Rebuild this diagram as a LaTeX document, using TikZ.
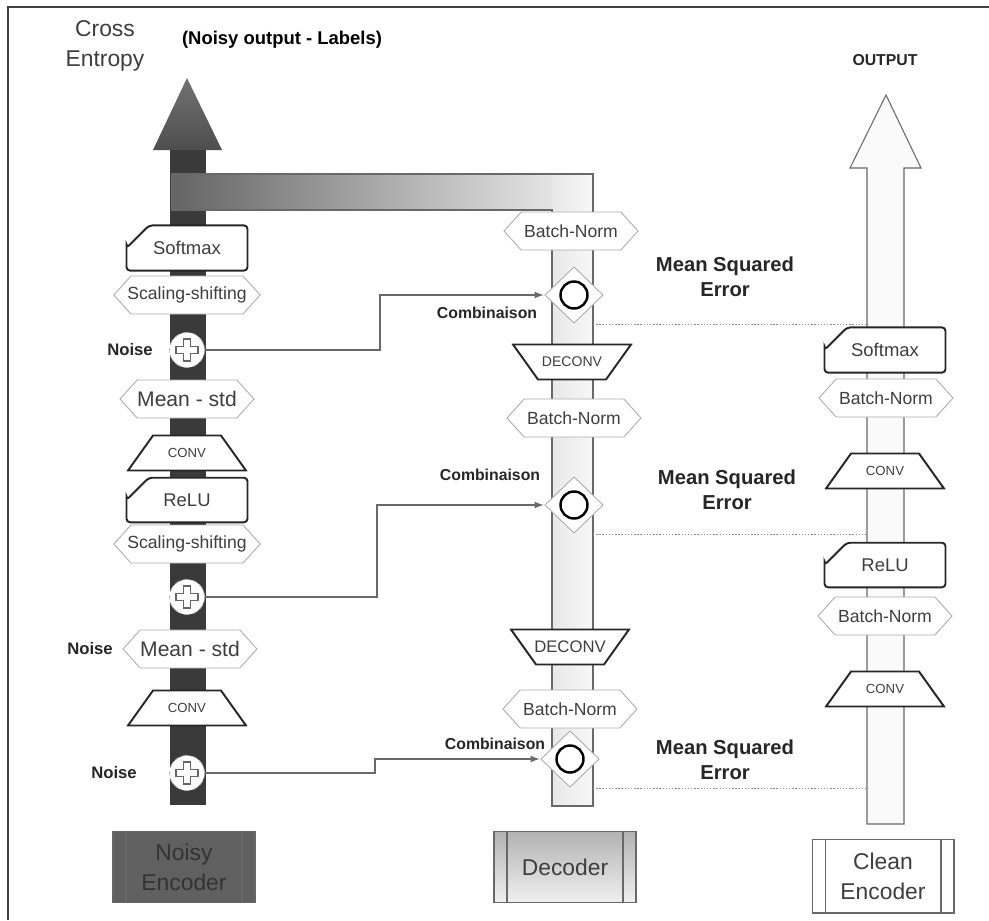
\documentclass[tikz,border=0pt]{standalone}
\usepackage{fontspec}
\setmainfont{Liberation Sans}
\usetikzlibrary{shapes.misc}
\usetikzlibrary{shapes.symbols}
\usetikzlibrary{positioning}
\definecolor{encDark}{RGB}{58,58,58}
\definecolor{headDark}{RGB}{78,78,78}
\definecolor{bandDark}{RGB}{100,100,100}
\definecolor{bandLight}{RGB}{242,242,242}
\definecolor{lineGray}{RGB}{105,105,105}
\definecolor{textGray}{RGB}{62,62,62}
\definecolor{boxDark}{RGB}{96,96,96}

\begin{document}
\begin{tikzpicture}[>=latex, x=0.02cm, y=-0.02cm]
        \tikzstyle{hexBox} = [shape=signal, signal to=east and west, signal pointer angle=96,
            draw=gray!65, fill=white, line width=0.5pt, inner xsep=-2pt, inner ysep=1pt,
            minimum width=2.68cm, minimum height=0.76cm, text=textGray,
            font=\fontsize{10}{12}\selectfont]
        \tikzstyle{cardNode} = [shape=chamfered rectangle, chamfered rectangle corners=north west,
            chamfered rectangle xsep=0.28cm, chamfered rectangle ysep=0.2cm,
            rounded corners=2pt, draw=black!85, line width=1.1pt, fill=white,
            minimum width=2.42cm, minimum height=0.72cm, text=textGray,
            font=\fontsize{10.5}{12}\selectfont]
        \tikzstyle{convNode} = [rectangle, draw=none, minimum width=2.42cm, minimum height=0.76cm,
            inner sep=1pt, text=textGray, font=\fontsize{7.5}{9}\selectfont,
            path picture={\draw[fill=white, draw=black!85, line width=1.1pt]
                ([shift={(0.03cm,0.03cm)}]path picture bounding box.south west)
                -- ([shift={(-0.03cm,0.03cm)}]path picture bounding box.south east)
                -- ([shift={(-0.53cm,-0.03cm)}]path picture bounding box.north east)
                -- ([shift={(0.53cm,-0.03cm)}]path picture bounding box.north west) -- cycle;}]
        \tikzstyle{deconvNode} = [convNode,
            path picture={\draw[fill=white, draw=black!85, line width=1.1pt]
                ([shift={(0.03cm,-0.03cm)}]path picture bounding box.north west)
                -- ([shift={(-0.03cm,-0.03cm)}]path picture bounding box.north east)
                -- ([shift={(-0.53cm,0.03cm)}]path picture bounding box.south east)
                -- ([shift={(0.53cm,0.03cm)}]path picture bounding box.south west) -- cycle;}]
        \tikzstyle{noiseNode} = [circle, fill=white, draw=gray!55, densely dashed,
            minimum size=0.7cm, inner sep=0pt,
            path picture={\draw[gray!80!black, solid, line width=0.6pt]
                (path picture bounding box.center) ++(-0.07cm,-0.22cm)
                -- ++(0.14cm,0cm) -- ++(0cm,0.15cm) -- ++(0.15cm,0cm) -- ++(0cm,0.14cm)
                -- ++(-0.15cm,0cm) -- ++(0cm,0.15cm) -- ++(-0.14cm,0cm) -- ++(0cm,-0.15cm)
                -- ++(-0.15cm,0cm) -- ++(0cm,-0.14cm) -- ++(0.15cm,0cm) -- cycle;}]
        \tikzstyle{combNode} = [rectangle, draw=none, minimum width=1.2cm, minimum height=1.16cm,
            inner sep=0pt,
            path picture={\draw[fill=white, draw=gray!65, line width=0.5pt]
                ([yshift=-0.02cm]path picture bounding box.north)
                -- ([xshift=-0.02cm]path picture bounding box.east)
                -- ([yshift=0.02cm]path picture bounding box.south)
                -- ([xshift=0.02cm]path picture bounding box.west) -- cycle;
                \draw[black, line width=1.4pt] (path picture bounding box.center) circle (0.27cm);}]
        \tikzstyle{procBox} = [rectangle, draw=lineGray, line width=0.6pt,
            minimum width=2.84cm, minimum height=1.42cm, align=center, text=textGray,
            font=\fontsize{13}{17}\selectfont,
            path picture={
                \draw[lineGray, line width=0.6pt] ([xshift=0.26cm]path picture bounding box.north west)
                    -- ([xshift=0.26cm]path picture bounding box.south west);
                \draw[lineGray, line width=0.6pt] ([xshift=-0.26cm]path picture bounding box.north east)
                    -- ([xshift=-0.26cm]path picture bounding box.south east);}]
        \tikzstyle{labelBold} = [font=\bfseries\fontsize{9.5}{11}\selectfont, text=black!85]
        \tikzstyle{mseLabel} = [align=center, font=\bfseries\fontsize{11.5}{14.5}\selectfont, text=black!85]
        \tikzstyle{connLine} = [draw=lineGray, line width=0.8pt, ->]
        \tikzstyle{mseLine} = [draw=gray!90, line width=0.8pt, densely dotted]
        \tikzstyle{colLine} = [draw=lineGray, line width=0.6pt]

        \useasboundingbox (0,0) rectangle (989,920);
        \draw[draw=black!75, line width=0.9pt] (8,920) -- (8,7) -- (989,7);

        % columns
        \fill[encDark] (170,150) rectangle (206,805);
        \shade[top color=headDark!80, bottom color=headDark] (153,150) -- (187,78) -- (222,150) -- cycle;
        \shade[left color=bandDark, right color=bandLight] (172,174) rectangle (593,210);
        \shade[left color=gray!18, right color=gray!6] (552,174) rectangle (593,806);
        \draw[colLine] (172,210) -- (172,174) -- (593,174) -- (593,806) -- (552,806) -- (552,210) -- cycle;
        \draw[colLine, fill=gray!4] (867,824) -- (867,168) -- (850,168) -- (886,95)
            -- (921,168) -- (904,168) -- (904,824) -- cycle;
        \coordinate (decRight) at (593,0);
        \coordinate (cleanLeft) at (867,0);

        % titles
        \node[align=center, text=textGray, font=\fontsize{13}{17.5}\selectfont] (nodeCross) at (105,46) {Cross\\Entropy};
        \node[font=\bfseries\fontsize{10.5}{12}\selectfont] (nodeNoisyOut) at (282,40) {(Noisy output - Labels)};
        \node[font=\bfseries\fontsize{9}{11}\selectfont, text=black!85] (nodeOutput) at (885,60) {OUTPUT};

        % noisy encoder
        \node[cardNode] (nodeSoftmaxN) at (187,248) {Softmax};
        \node[hexBox] (nodeScaleNA) at (187,295) {Scaling-shifting};
        \node[noiseNode] (nodeNoiseNA) at (187,350) {};
        \node[hexBox, font=\fontsize{12}{14}\selectfont] (nodeMeanNA) at (187,399) {Mean - std};
        \node[convNode] (nodeConvNA) at (187,453) {CONV};
        \node[cardNode] (nodeReluN) at (187,500) {ReLU};
        \node[hexBox] (nodeScaleNB) at (187,544) {Scaling-shifting};
        \node[noiseNode] (nodeNoiseNB) at (187,597) {};
        \node[hexBox, font=\fontsize{12}{14}\selectfont] (nodeMeanNB) at (190,649) {Mean - std};
        \node[convNode] (nodeConvNB) at (187,708) {CONV};
        \node[noiseNode] (nodeNoiseNC) at (187,773) {};
        \node[labelBold, left of=nodeNoiseNA, node distance=1.14cm] (nodeNoiseLabA) {Noise};
        \node[labelBold, left of=nodeMeanNB, node distance=2cm] (nodeNoiseLabB) {Noise};
        \node[labelBold, left of=nodeNoiseNC, node distance=1.46cm] (nodeNoiseLabC) {Noise};

        % decoder
        \node[hexBox] (nodeBnDA) at (571,231) {Batch-Norm};
        \node[combNode] (nodeCombA) at (574,295) {};
        \node[deconvNode, font=\fontsize{8}{9}\selectfont] (nodeDeconvA) at (572,362) {DECONV};
        \node[hexBox] (nodeBnDB) at (574,418) {Batch-Norm};
        \node[combNode] (nodeCombB) at (574,505) {};
        \node[deconvNode, font=\fontsize{9.5}{11}\selectfont] (nodeDeconvB) at (570,647) {DECONV};
        \node[hexBox] (nodeBnDC) at (570,709) {Batch-Norm};
        \node[combNode] (nodeCombC) at (570,759) {};
        \node[labelBold, font=\bfseries\fontsize{9}{11}\selectfont] (nodeCombLabA) at (487,313) {Combinaison};
        \node[labelBold, font=\bfseries\fontsize{9}{11}\selectfont] (nodeCombLabB) at (490,475) {Combinaison};
        \node[labelBold, font=\bfseries\fontsize{9}{11}\selectfont] (nodeCombLabC) at (495,744) {Combinaison};
        \node[mseLabel] (nodeMseA) at (725,277) {Mean Squared\\Error};
        \node[mseLabel] (nodeMseB) at (727,490) {Mean Squared\\Error};
        \node[mseLabel] (nodeMseC) at (725,760) {Mean Squared\\Error};

        % clean encoder
        \node[cardNode] (nodeSoftmaxC) at (885,350) {Softmax};
        \node[hexBox] (nodeBnCA) at (886,398) {Batch-Norm};
        \node[convNode] (nodeConvCA) at (885,471) {CONV};
        \node[cardNode] (nodeReluC) at (885,565) {ReLU};
        \node[hexBox] (nodeBnCB) at (885,616) {Batch-Norm};
        \node[convNode] (nodeConvCB) at (885,689) {CONV};

        % boxes
        \node[procBox, fill=boxDark, draw=black!60, text=black!80] (nodeNoisyEnc) at (184,867) {Noisy\\Encoder};
        \node[procBox, top color=gray!60, bottom color=gray!12] (nodeDecoder) at (565,867) {Decoder};
        \node[procBox, fill=white, minimum height=1.48cm] (nodeCleanEnc) at (883,876) {Clean\\Encoder};

        % connectors
        \coordinate (bendA) at (380,0);
        \coordinate (bendB) at (377,0);
        \coordinate (bendC) at (375,0);
        \draw[connLine] (nodeNoiseNA.east) -- (nodeNoiseNA.east -| bendA) |- (nodeCombA.west);
        \draw[connLine] (nodeNoiseNB.east) -- (nodeNoiseNB.east -| bendB) |- (nodeCombB.west);
        \draw[connLine] (nodeNoiseNC.east) -- (nodeNoiseNC.east -| bendC) |- (nodeCombC.west);
        \draw[mseLine] (decRight |- nodeCombA.south) -- (cleanLeft |- nodeCombA.south);
        \draw[mseLine] (decRight |- nodeCombB.south) -- (cleanLeft |- nodeCombB.south);
        \draw[mseLine] (decRight |- nodeCombC.south) -- (cleanLeft |- nodeCombC.south);
\end{tikzpicture}
\end{document}
